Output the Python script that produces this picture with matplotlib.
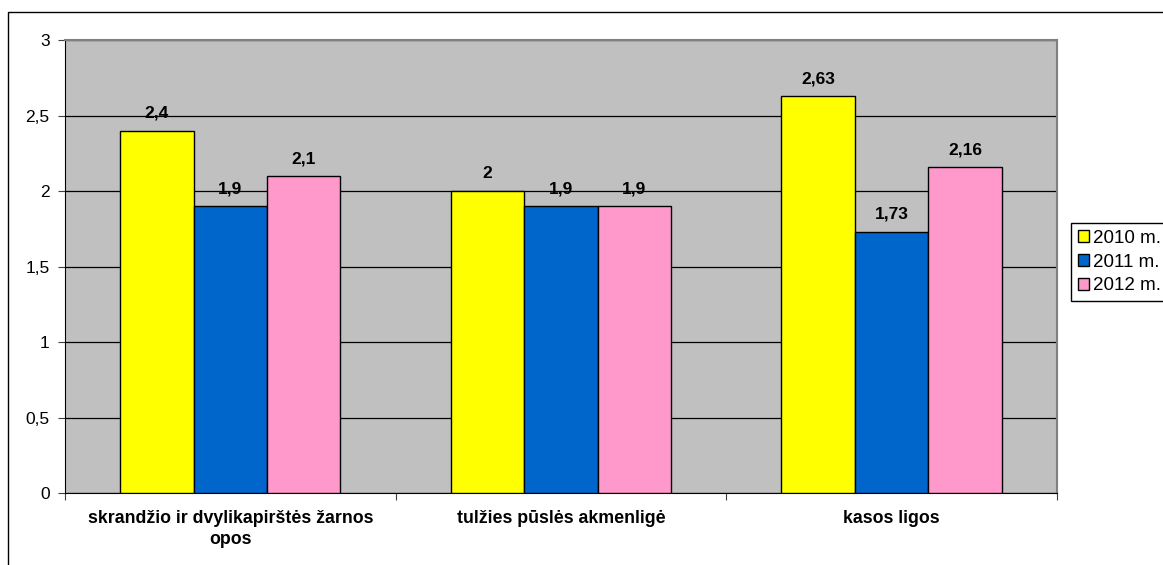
import matplotlib.pyplot as plt
import matplotlib.patches as mpatches
import numpy as np

plt.rcParams['font.family'] = ['Liberation Sans', 'DejaVu Sans']

# Data
categories = ['skrandžio ir dvylikapirštės žarnos\nopos', 'tulžies pūslės akmenligė', 'kasos ligos']
series_names = ['2010 m.', '2011 m.', '2012 m.']
values_2010 = [2.4, 2.0, 2.63]
values_2011 = [1.9, 1.9, 1.73]
values_2012 = [2.1, 1.9, 2.16]
colors = ['#FFFF00', '#0066CC', '#FF99CC']

fig = plt.figure(figsize=(11.63, 5.65), dpi=100)
ax = fig.add_axes([0.0559, 0.1274, 0.8527, 0.8018])
ax.set_facecolor('#C0C0C0')

x = np.arange(len(categories))
width = 1 / 4.5
all_series = [values_2010, values_2011, values_2012]
for i, (vals, name, col) in enumerate(zip(all_series, series_names, colors)):
    bars = ax.bar(x + (i - 1) * width, vals, width, color=col, edgecolor='black',
                  linewidth=1, label=name, zorder=3)
    for b, v in zip(bars, vals):
        ax.text(b.get_x() + b.get_width() / 2, v + 0.065, ('%g' % v).replace('.', ','),
                ha='center', va='bottom', fontsize=12.5, fontweight='bold', zorder=4)

ax.set_xlim(-0.5, 2.5)
ax.set_ylim(0, 3)
yt = np.arange(0, 3.01, 0.5)
ax.set_yticks(yt)
ax.set_yticklabels([('%g' % v).replace('.', ',') for v in yt], fontsize=12.5)
ax.yaxis.grid(True, color='black', linewidth=0.9, zorder=1)
ax.set_axisbelow(True)

ax.set_xticks([-0.5, 0.5, 1.5, 2.5])
ax.set_xticklabels([])
ax.set_xticks(x, minor=True)
ax.set_xticklabels(categories, minor=True, fontsize=12.8, fontweight='bold', linespacing=1.3)
ax.tick_params(axis='x', which='minor', length=0, pad=12)
ax.tick_params(axis='x', which='major', length=5, direction='out', color='#404040')
ax.tick_params(axis='y', length=5, direction='out', color='#404040', pad=6)

ax.spines['left'].set_color('black')
ax.spines['bottom'].set_color('black')
ax.spines['top'].set_color('#808080')
ax.spines['right'].set_color('#808080')
ax.spines['top'].set_linewidth(1.5)
ax.spines['right'].set_linewidth(1.5)

leg = ax.legend(loc='upper left', bbox_to_anchor=(1.0144, 0.595), fontsize=13.5,
                frameon=True, fancybox=False, edgecolor='black', framealpha=1,
                handlelength=0.6, handleheight=0.6, handletextpad=0.25,
                borderpad=0.35, borderaxespad=0, labelspacing=0.35)
leg.get_frame().set_linewidth(1)

# Outer chart border
border = mpatches.Rectangle((8 / 1163, -0.05), 1.1, 1 - 12 / 565 + 0.05,
                            transform=fig.transFigure, fill=False,
                            edgecolor='black', linewidth=1, clip_on=False)
fig.patches.append(border)

fig.savefig('out.png', dpi=100)
